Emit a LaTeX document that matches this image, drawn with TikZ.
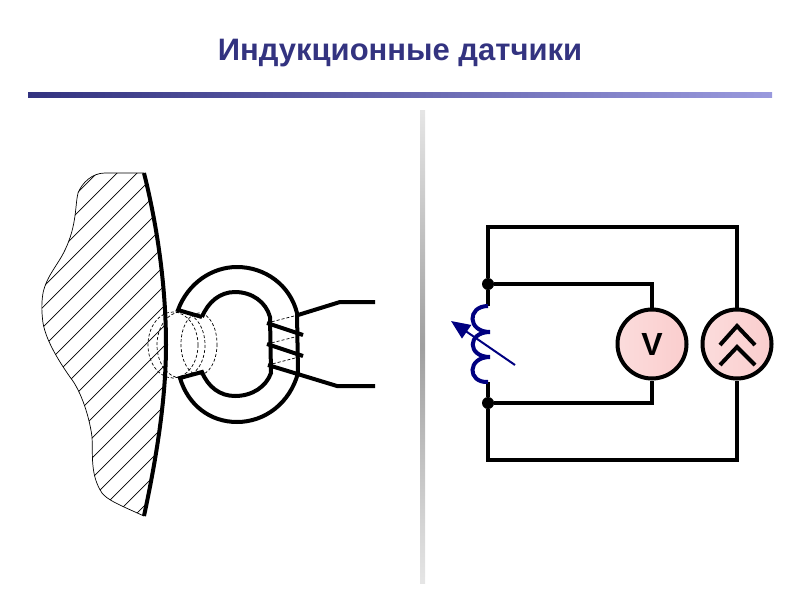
\documentclass[tikz,border=0pt]{standalone}
\usepackage{fontspec}
\setmainfont{Liberation Sans}
\usepackage{tikz}
\usetikzlibrary{arrows,arrows.meta,positioning,shapes.geometric}
\definecolor{titleblue}{RGB}{51,51,128}
\definecolor{rulelight}{RGB}{153,153,221}
\definecolor{meterpink}{RGB}{250,205,205}
\definecolor{coilblue}{RGB}{0,0,128}

\begin{document}
\begin{tikzpicture}[x=1pt,y=-1pt]
          \tikzstyle{heavy}=[line width=4pt]
          \tikzstyle{thin wire}=[line width=0.7pt]
          \tikzstyle{ghost}=[line width=0.7pt,dash pattern=on 3pt off 2pt]
          \tikzstyle{meter}=[circle,draw,line width=4pt,minimum size=69pt,inner sep=0pt,
                             left color=meterpink!70!white,right color=meterpink,font=\bfseries\fontsize{32}{32}\selectfont]
          \tikzstyle{junction}=[circle,fill=black,minimum size=12pt,inner sep=0pt]

          \useasboundingbox (0,0) rectangle (800,600);

          \node[text=titleblue,font=\bfseries\fontsize{31}{31}\selectfont] (title) at (400,53) {Индукционные датчики};
          \shade[left color=titleblue,right color=rulelight] (28,92) rectangle (772,97);
          \shade[top color=gray!20,bottom color=gray!20,middle color=gray!75] (420,110) rectangle (425,583);

          % body
          \begin{scope}
            \clip (144,173) .. controls (125,173) and (115,173) .. (105,173)
                  .. controls (92,173) and (82,183) .. (78,193)
                  .. controls (75,205) and (77,225) .. (65,250)
                  .. controls (58,265) and (47,275) .. (43,293)
                  .. controls (41,305) and (42,315) .. (43,323)
                  .. controls (46,340) and (58,360) .. (70,377)
                  .. controls (82,392) and (90,420) .. (92,437)
                  .. controls (93,455) and (90,475) .. (102,493)
                  .. controls (108,500) and (115,503) .. (144,516)
                  .. controls (156,460) and (166,400) .. (166,345)
                  .. controls (166,285) and (157,225) .. (144,173) -- cycle;
            \foreach \x in {-250,-230,...,150}
              \draw[thin wire] (\x,520) -- ++(400,-400);
          \end{scope}
          \draw[thin wire] (144,173) .. controls (125,173) and (115,173) .. (105,173)
                  .. controls (92,173) and (82,183) .. (78,193)
                  .. controls (75,205) and (77,225) .. (65,250)
                  .. controls (58,265) and (47,275) .. (43,293)
                  .. controls (41,305) and (42,315) .. (43,323)
                  .. controls (46,340) and (58,360) .. (70,377)
                  .. controls (82,392) and (90,420) .. (92,437)
                  .. controls (93,455) and (90,475) .. (102,493)
                  .. controls (108,500) and (115,503) .. (144,516);
          \draw[heavy] (144,173) .. controls (157,225) and (166,285) .. (166,345)
                  .. controls (166,400) and (156,460) .. (144,516);

          % field
          \draw[ghost] (173,345) ellipse [x radius=25,y radius=33];
          \draw[ghost] (181,345) ellipse [x radius=24,y radius=33];
          \draw[ghost] (199,344) ellipse [x radius=18,y radius=31];

          % core
          \draw[heavy] (202,317) -- (178,310) .. controls (188,283) and (212,267) .. (237,267)
                  .. controls (265,267) and (290,285) .. (297,313) -- (298,373)
                  .. controls (290,403) and (265,422) .. (237,422)
                  .. controls (210,422) and (188,405) .. (180,378) -- (202,372)
                  .. controls (208,387) and (220,396) .. (235,396)
                  .. controls (252,396) and (266,387) .. (271,373) -- (270,317)
                  .. controls (266,302) and (252,292) .. (235,292)
                  .. controls (220,292) and (208,302) .. (202,317);

          % winding
          \coordinate (w1) at (267,323);
          \coordinate (w2) at (303,335);
          \coordinate (w3) at (267,344);
          \coordinate (w4) at (303,356);
          \coordinate (w5) at (268,365);
          \coordinate (w6) at (337,386);
          \coordinate (w7) at (375,386);
          \coordinate (w8) at (298,315);
          \coordinate (w9) at (340,302);
          \coordinate (w10) at (375,302);
          \draw[heavy] (w1) -- (w2);
          \draw[heavy] (w3) -- (w4);
          \draw[heavy] (w5) -- (w6) -- (w7);
          \draw[heavy] (w8) -- (w9) -- (w10);
          \draw[ghost] (w1) -- (w8);
          \draw[ghost] (w3) -- (w2);
          \draw[ghost] (w5) -- (w4);

          % circuit
          \node[meter] (v) at (652,344) {V};
          \node[meter] (g) at (737,344) {};
          \node[junction] (ja) at (488,284) {};
          \node[junction] (jb) at (488,403) {};
          \coordinate (ca) at (488,306);
          \coordinate (cb) at (488,382);

          \draw[heavy] (ca) -- (ja) -- (488,227) -| (g.north);
          \draw[heavy] (cb) -- (jb) -- (488,460) -| (g.south);
          \draw[heavy] (ja) -| (v.north);
          \draw[heavy] (jb) -| (v.south);

          \draw[heavy] (720,345) -- (737,326) -- (755,345);
          \draw[heavy] (720,365) -- (737,347) -- (755,365);

          % inductor
          \draw[heavy,coilblue] (ca) .. controls (467,306) and (467,332) .. (490,332)
                  .. controls (467,332) and (467,357) .. (490,357)
                  .. controls (467,357) and (467,383) .. (cb);
          \coordinate (aa) at (515,365);
          \coordinate (ab) at (451,321);
          \draw[coilblue,line width=2pt,-{Triangle[length=19pt,width=16pt]}] (aa) -- (ab);
        \end{tikzpicture}
\end{document}
